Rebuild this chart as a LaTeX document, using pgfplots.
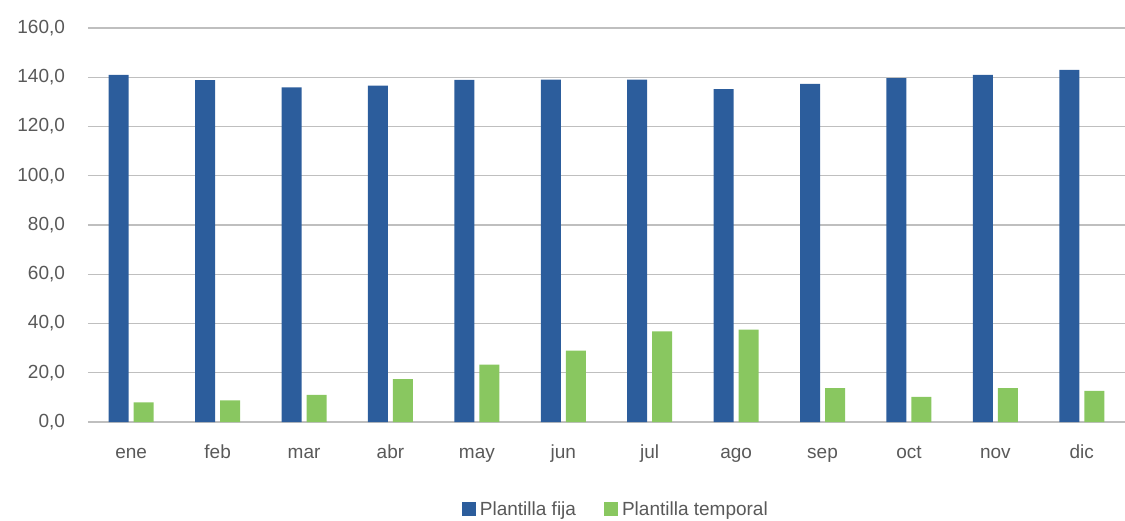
\documentclass[border=0pt]{standalone}
\usepackage{pgfplots}
\pgfplotsset{compat=1.18}
\usepackage{fontspec}
\setmainfont{Liberation Sans}
\definecolor{fija}{RGB}{44,93,156}
\definecolor{temporal}{RGB}{137,199,96}
\definecolor{txt}{RGB}{89,89,89}
\definecolor{grid}{RGB}{217,217,217}

\begin{document}
\begin{tikzpicture}
\path[use as bounding box] (-44pt,-49pt) rectangle (518.5pt,211pt);
\begin{axis}[
    at={(0,0)}, anchor=south west,
    scale only axis,
    width=518.5pt, height=197pt,
    ybar=2.5pt, bar width=10pt,
    xmin=-0.5, xmax=11.5,
    ymin=0, ymax=160,
    ytick={0,20,...,160},
    xtick={0,...,11},
    xticklabels={ene,feb,mar,abr,may,jun,jul,ago,sep,oct,nov,dic},
    axis line style={draw=none},
    tick style={draw=none},
    major tick length=0pt,
    xmajorgrids=false, ymajorgrids=true,
    grid style={grid, line width=0.7pt},
    tick label style={font=\fontsize{9.5}{11}\selectfont, text=txt},
    yticklabel style={xshift=-8pt, /pgf/number format/fixed, /pgf/number format/fixed zerofill,
        /pgf/number format/precision=1, /pgf/number format/use comma,
        /pgf/number format/assume math mode=true},
    xticklabel style={yshift=-18pt, anchor=base, text depth=0pt},
    legend style={at={(0.51,-44pt)}, anchor=center, draw=none, legend columns=2,
        font=\fontsize{9.5}{11}\selectfont, text=txt,
        /tikz/every even column/.append style={column sep=12pt}},
    legend image code/.code={\fill[#1] (0pt,-3pt) rectangle (7pt,4pt);},
]
\addplot[fill=fija, draw=none] coordinates {
(0,141.0) (1,138.8) (2,135.9) (3,136.6) (4,138.9) (5,139.0)
(6,139.0) (7,135.2) (8,137.3) (9,139.6) (10,141.0) (11,143.0)};
\addplot[fill=temporal, draw=none] coordinates {
(0,8.0) (1,8.8) (2,11.0) (3,17.4) (4,23.3) (5,29.0)
(6,36.8) (7,37.5) (8,13.8) (9,10.2) (10,13.8) (11,12.6)};
\legend{Plantilla fija, Plantilla temporal}
\end{axis}
\end{tikzpicture}
\end{document}
